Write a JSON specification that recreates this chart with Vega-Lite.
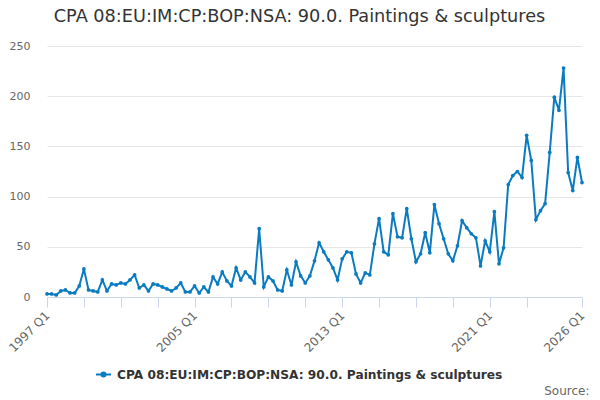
{
  "$schema": "https://vega.github.io/schema/vega-lite/v6.json",
  "autosize": "none",
  "width": 535,
  "height": 251,
  "padding": {"left": 47, "top": 46, "right": 18, "bottom": 103},
  "background": "white",
  "config": {
    "font": "DejaVu Sans",
    "view": {"stroke": null}
  },
  "title": {
    "text": "CPA 08:EU:IM:CP:BOP:NSA: 90.0. Paintings & sculptures",
    "anchor": "middle",
    "dx": -15,
    "offset": 14,
    "fontSize": 17.7,
    "fontWeight": "normal",
    "color": "#333333",
    "font": "DejaVu Sans"
  },
  "data": {
    "values": [
      {"quarter": "1997 Q1", "value": 3}, {"quarter": "1997 Q2", "value": 3}, {"quarter": "1997 Q3", "value": 2}, {"quarter": "1997 Q4", "value": 6},
      {"quarter": "1998 Q1", "value": 7}, {"quarter": "1998 Q2", "value": 4}, {"quarter": "1998 Q3", "value": 4}, {"quarter": "1998 Q4", "value": 11},
      {"quarter": "1999 Q1", "value": 28}, {"quarter": "1999 Q2", "value": 7}, {"quarter": "1999 Q3", "value": 6}, {"quarter": "1999 Q4", "value": 5},
      {"quarter": "2000 Q1", "value": 17}, {"quarter": "2000 Q2", "value": 6}, {"quarter": "2000 Q3", "value": 13}, {"quarter": "2000 Q4", "value": 12},
      {"quarter": "2001 Q1", "value": 14}, {"quarter": "2001 Q2", "value": 13}, {"quarter": "2001 Q3", "value": 17}, {"quarter": "2001 Q4", "value": 22},
      {"quarter": "2002 Q1", "value": 9}, {"quarter": "2002 Q2", "value": 12}, {"quarter": "2002 Q3", "value": 6}, {"quarter": "2002 Q4", "value": 13},
      {"quarter": "2003 Q1", "value": 12}, {"quarter": "2003 Q2", "value": 10}, {"quarter": "2003 Q3", "value": 8}, {"quarter": "2003 Q4", "value": 6},
      {"quarter": "2004 Q1", "value": 9}, {"quarter": "2004 Q2", "value": 14}, {"quarter": "2004 Q3", "value": 5}, {"quarter": "2004 Q4", "value": 5},
      {"quarter": "2005 Q1", "value": 11}, {"quarter": "2005 Q2", "value": 4}, {"quarter": "2005 Q3", "value": 10}, {"quarter": "2005 Q4", "value": 5},
      {"quarter": "2006 Q1", "value": 20}, {"quarter": "2006 Q2", "value": 13}, {"quarter": "2006 Q3", "value": 25}, {"quarter": "2006 Q4", "value": 16},
      {"quarter": "2007 Q1", "value": 11}, {"quarter": "2007 Q2", "value": 29}, {"quarter": "2007 Q3", "value": 17}, {"quarter": "2007 Q4", "value": 25},
      {"quarter": "2008 Q1", "value": 20}, {"quarter": "2008 Q2", "value": 14}, {"quarter": "2008 Q3", "value": 68}, {"quarter": "2008 Q4", "value": 10},
      {"quarter": "2009 Q1", "value": 20}, {"quarter": "2009 Q2", "value": 16}, {"quarter": "2009 Q3", "value": 7}, {"quarter": "2009 Q4", "value": 6},
      {"quarter": "2010 Q1", "value": 27}, {"quarter": "2010 Q2", "value": 12}, {"quarter": "2010 Q3", "value": 35}, {"quarter": "2010 Q4", "value": 21},
      {"quarter": "2011 Q1", "value": 14}, {"quarter": "2011 Q2", "value": 21}, {"quarter": "2011 Q3", "value": 36}, {"quarter": "2011 Q4", "value": 54},
      {"quarter": "2012 Q1", "value": 45}, {"quarter": "2012 Q2", "value": 37}, {"quarter": "2012 Q3", "value": 29}, {"quarter": "2012 Q4", "value": 17},
      {"quarter": "2013 Q1", "value": 38}, {"quarter": "2013 Q2", "value": 45}, {"quarter": "2013 Q3", "value": 44}, {"quarter": "2013 Q4", "value": 23},
      {"quarter": "2014 Q1", "value": 14}, {"quarter": "2014 Q2", "value": 24}, {"quarter": "2014 Q3", "value": 22}, {"quarter": "2014 Q4", "value": 53},
      {"quarter": "2015 Q1", "value": 78}, {"quarter": "2015 Q2", "value": 45}, {"quarter": "2015 Q3", "value": 42}, {"quarter": "2015 Q4", "value": 83},
      {"quarter": "2016 Q1", "value": 60}, {"quarter": "2016 Q2", "value": 59}, {"quarter": "2016 Q3", "value": 88}, {"quarter": "2016 Q4", "value": 58},
      {"quarter": "2017 Q1", "value": 35}, {"quarter": "2017 Q2", "value": 43}, {"quarter": "2017 Q3", "value": 64}, {"quarter": "2017 Q4", "value": 44},
      {"quarter": "2018 Q1", "value": 92}, {"quarter": "2018 Q2", "value": 73}, {"quarter": "2018 Q3", "value": 58}, {"quarter": "2018 Q4", "value": 43},
      {"quarter": "2019 Q1", "value": 36}, {"quarter": "2019 Q2", "value": 51}, {"quarter": "2019 Q3", "value": 76}, {"quarter": "2019 Q4", "value": 69},
      {"quarter": "2020 Q1", "value": 63}, {"quarter": "2020 Q2", "value": 59}, {"quarter": "2020 Q3", "value": 31}, {"quarter": "2020 Q4", "value": 56},
      {"quarter": "2021 Q1", "value": 45}, {"quarter": "2021 Q2", "value": 85}, {"quarter": "2021 Q3", "value": 33}, {"quarter": "2021 Q4", "value": 49},
      {"quarter": "2022 Q1", "value": 112}, {"quarter": "2022 Q2", "value": 121}, {"quarter": "2022 Q3", "value": 125}, {"quarter": "2022 Q4", "value": 119},
      {"quarter": "2023 Q1", "value": 161}, {"quarter": "2023 Q2", "value": 136}, {"quarter": "2023 Q3", "value": 77}, {"quarter": "2023 Q4", "value": 86},
      {"quarter": "2024 Q1", "value": 93}, {"quarter": "2024 Q2", "value": 144}, {"quarter": "2024 Q3", "value": 199}, {"quarter": "2024 Q4", "value": 186},
      {"quarter": "2025 Q1", "value": 228}, {"quarter": "2025 Q2", "value": 124}, {"quarter": "2025 Q3", "value": 106}, {"quarter": "2025 Q4", "value": 139},
      {"quarter": "2026 Q1", "value": 114}
    ]
  },
  "mark": {
    "type": "line",
    "strokeWidth": 2,
    "point": {"filled": true, "size": 14}
  },
  "encoding": {
    "x": {
      "field": "quarter",
      "type": "ordinal",
      "sort": null,
      "scale": {"type": "point", "padding": 0},
      "axis": {
        "title": "Source:",
        "titleAnchor": "end",
        "titleAlign": "right",
        "titleBaseline": "alphabetic",
        "titleX": 542,
        "titleY": 97,
        "titleFontSize": 12,
        "titleFontWeight": "normal",
        "titleColor": "#666666",
        "values": ["1997 Q1", "1999 Q1", "2001 Q1", "2003 Q1", "2005 Q1", "2007 Q1", "2009 Q1", "2011 Q1", "2013 Q1", "2015 Q1", "2017 Q1", "2019 Q1", "2021 Q1", "2023 Q1", "2026 Q1"],
        "labelExpr": "indexof(['1997 Q1','2005 Q1','2013 Q1','2021 Q1','2026 Q1'], datum.value) >= 0 ? datum.value : ''",
        "labelAngle": -45,
        "labelAlign": "right",
        "labelBaseline": "middle",
        "labelFontSize": 12,
        "labelColor": "#666666",
        "labelPadding": 6,
        "labelOverlap": false,
        "domainColor": "#ccd6eb",
        "domainWidth": 1,
        "tickColor": "#ccd6eb",
        "tickSize": 10,
        "grid": false
      }
    },
    "y": {
      "field": "value",
      "type": "quantitative",
      "scale": {"domain": [0, 250], "nice": false},
      "axis": {
        "title": null,
        "values": [0, 50, 100, 150, 200, 250],
        "domain": false,
        "ticks": false,
        "labelPadding": 17,
        "labelFontSize": 11,
        "labelColor": "#666666",
        "gridColor": "#e6e6e6",
        "gridWidth": 1
      }
    },
    "color": {
      "datum": "CPA 08:EU:IM:CP:BOP:NSA: 90.0. Paintings & sculptures",
      "type": "nominal",
      "scale": {"range": ["#0a7bc1"]},
      "legend": {
        "title": null,
        "orient": "none",
        "legendX": 48,
        "legendY": 320,
        "labelFontSize": 12.2,
        "labelFontWeight": "bold",
        "labelColor": "#333333",
        "labelLimit": 600,
        "symbolType": "M-1,0L1,0M-0.27,0A0.27,0.27,0,1,1,0.27,0A0.27,0.27,0,1,1,-0.27,0Z",
        "symbolStrokeWidth": 2,
        "symbolSize": 225,
        "labelOffset": 5,
        "encode": {
          "symbols": {"update": {"fill": {"value": "#0a7bc1"}, "stroke": {"value": "#0a7bc1"}}}
        }
      }
    }
  }
}
